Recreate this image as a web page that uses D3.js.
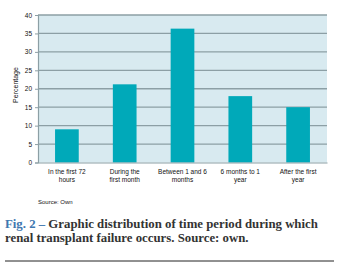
<!DOCTYPE html>
<html><head><meta charset="utf-8">
<script src="https://cdn.jsdelivr.net/npm/d3@7"></script>
<style>
html,body{margin:0;padding:0;background:#fff;}
svg{display:block;}
</style></head>
<body>
<svg id="c" width="348" height="274"></svg>
<script>
const categories = [["In the first 72","hours"],["During the","first month"],["Between 1 and 6","months"],["6 months to 1","year"],["After the first","year"]];
const values = [9, 21.2, 36.3, 18, 15];
const yTicks = [0,5,10,15,20,25,30,35,40];
const yTitle = "Percentage";
const sourceText = "Source: Own";
const captionLead = "Fig. 2 –";
const captionLine1 = " Graphic distribution of time period during which";
const captionLine2 = "renal transplant failure occurs. Source: own.";

const svg = d3.select("#c");
const L = 38, R = 327, T = 15, B = 162.5;
const x = d3.scaleBand().domain(d3.range(categories.length)).range([L, R]).paddingInner(0.59).paddingOuter(0.295);
const y = d3.scaleLinear().domain([0, 40]).range([B, T]);

svg.append("rect").attr("x", L).attr("y", T).attr("width", R - L).attr("height", B - T).attr("fill", "#d8eaf0");

svg.append("g").selectAll("line").data(yTicks.filter(d => d > 0)).join("line")
  .attr("x1", L).attr("x2", R).attr("y1", d => y(d)).attr("y2", d => y(d))
  .attr("stroke", "#8c9fa5").attr("stroke-width", 1.3);

svg.append("g").selectAll("rect").data(values).join("rect")
  .attr("x", (d, i) => x(i)).attr("width", x.bandwidth())
  .attr("y", d => y(d)).attr("height", d => y(0) - y(d))
  .attr("fill", "#00a9b9");

const ya = svg.append("g").attr("transform", `translate(${L},0)`)
  .call(d3.axisLeft(y).tickValues(yTicks).tickSize(3).tickPadding(3));
ya.select(".domain").attr("stroke", "#8c9fa5").attr("stroke-width", 1.2);
ya.selectAll(".tick line").attr("stroke", "#8c9fa5");
ya.selectAll("text").attr("font-family", "Liberation Sans, Arial, sans-serif").attr("font-size", 6.5).attr("fill", "#111");

const xa = svg.append("g").attr("transform", `translate(0,${B})`)
  .call(d3.axisBottom(x).tickSize(0).tickFormat(() => ""));
xa.select(".domain").attr("stroke", "#8c9fa5").attr("stroke-width", 1.2);

svg.append("g").selectAll("text").data(categories).join("text")
  .attr("x", (d, i) => x(i) + x.bandwidth() / 2).attr("y", 173.5)
  .attr("text-anchor", "middle").attr("font-family", "Liberation Sans, Arial, sans-serif")
  .attr("font-size", 6.5).attr("fill", "#111")
  .each(function(d) {
    const t = d3.select(this);
    d.forEach((s, k) => t.append("tspan").attr("x", t.attr("x")).attr("dy", k ? 8.3 : 0).text(s));
  });

svg.append("text").attr("transform", `translate(17.5,85) rotate(-90)`)
  .attr("text-anchor", "middle").attr("font-family", "Liberation Sans, Arial, sans-serif")
  .attr("font-size", 7).attr("fill", "#111").text(yTitle);

svg.append("text").attr("x", 38).attr("y", 204).attr("font-family", "Liberation Sans, Arial, sans-serif")
  .attr("font-size", 6).attr("fill", "#111").text(sourceText);

const capFont = "Liberation Serif, serif";
const cap = svg.append("text").attr("x", 5).attr("y", 227.5).attr("font-family", capFont)
  .attr("font-size", 12).attr("font-weight", "bold").attr("fill", "#333");
cap.append("tspan").attr("fill", "#3f78b0").text(captionLead);
cap.append("tspan").text(captionLine1);
const cap2 = svg.append("text").attr("x", 5).attr("y", 242).attr("font-family", capFont)
  .attr("font-size", 12).attr("font-weight", "bold").attr("fill", "#333").text(captionLine2);
// fit first caption line to the reference width (5 → 318)
const w1 = cap.node().getComputedTextLength();
const fs = 12 * 313 / w1;
cap.attr("font-size", fs);
cap2.attr("font-size", fs);

svg.append("line").attr("x1", 5).attr("x2", 334).attr("y1", 261).attr("y2", 261).attr("stroke", "#222").attr("stroke-width", 1);
</script>
</body></html>
